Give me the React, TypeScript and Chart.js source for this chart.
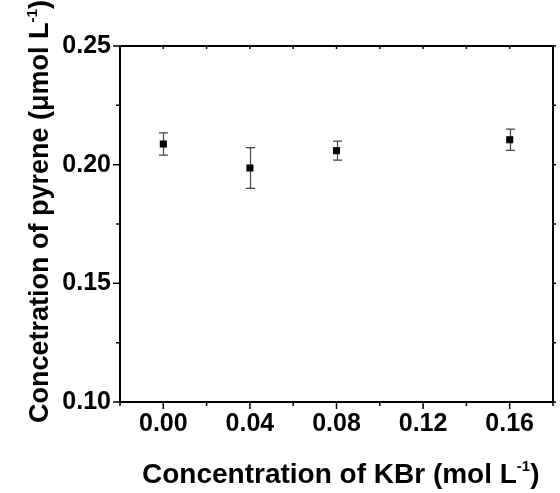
import React, { useEffect, useRef } from "react";
import { Chart, registerables } from "chart.js";

Chart.register(...registerables);

// Data
const kbrConc = [0.0, 0.04, 0.08, 0.16];
const pyreneConc = [0.2087, 0.1986, 0.2059, 0.2105];
const pyreneErr = [0.0047, 0.0086, 0.004, 0.0045];

const xMin = -0.02;
const xMax = 0.18;
const xStep = 0.02;
const xMajorStep = 0.04;
const yMin = 0.1;
const yMax = 0.25;
const yStep = 0.025;
const yMajorStep = 0.05;

const xTitle = "Concentration of KBr (mol L";
const yTitle = "Concetration of pyrene (\u03BCmol L";
const supText = "-1";

const FONT = '"Liberation Sans", Arial, Helvetica, sans-serif';

const isMajor = (v: number, step: number) =>
  Math.abs(v / step - Math.round(v / step)) < 1e-6;

const errorBarPlugin = {
  id: "errorBars",
  beforeDatasetsDraw(chart: any) {
    const { ctx } = chart;
    const xs = chart.scales.x;
    const ys = chart.scales.y;
    ctx.save();
    ctx.strokeStyle = "#444";
    ctx.lineWidth = 1.2;
    kbrConc.forEach((xv, i) => {
      const px = Math.round(xs.getPixelForValue(xv)) + 0.5;
      const top = ys.getPixelForValue(pyreneConc[i] + pyreneErr[i]);
      const bot = ys.getPixelForValue(pyreneConc[i] - pyreneErr[i]);
      ctx.beginPath();
      ctx.moveTo(px, top);
      ctx.lineTo(px, bot);
      ctx.moveTo(px - 4.5, top);
      ctx.lineTo(px + 4.5, top);
      ctx.moveTo(px - 4.5, bot);
      ctx.lineTo(px + 4.5, bot);
      ctx.stroke();
    });
    ctx.restore();
  },
};

const framePlugin = {
  id: "frame",
  afterDraw(chart: any) {
    const { ctx, chartArea: a } = chart;
    const xs = chart.scales.x;
    const ys = chart.scales.y;
    ctx.save();
    ctx.strokeStyle = "#000";
    ctx.lineWidth = 2;
    ctx.strokeRect(a.left, a.top, a.right - a.left, a.bottom - a.top);
    ctx.lineWidth = 1.5;
    ctx.beginPath();
    xs.ticks.forEach((t: any) => {
      const px = xs.getPixelForValue(t.value);
      const len = isMajor(t.value, xMajorStep) ? 7 : 4;
      ctx.moveTo(px, a.bottom);
      ctx.lineTo(px, a.bottom + len);
      ctx.moveTo(px, a.top);
      ctx.lineTo(px, a.top + 3);
    });
    ys.ticks.forEach((t: any) => {
      const py = ys.getPixelForValue(t.value);
      const len = isMajor(t.value, yMajorStep) ? 7 : 4;
      ctx.moveTo(a.left, py);
      ctx.lineTo(a.left - len, py);
      ctx.moveTo(a.right, py);
      ctx.lineTo(a.right + 3, py);
    });
    ctx.stroke();
    ctx.restore();
  },
};

// draws title starting at local x = 0, baseline at local y = 0
function drawTitle(ctx: CanvasRenderingContext2D, main: string, size: number) {
  const mainFont = `bold ${size}px ${FONT}`;
  const supFont = `bold ${Math.round(size * 0.55)}px ${FONT}`;
  ctx.textAlign = "left";
  ctx.textBaseline = "alphabetic";
  let x = 0;
  ctx.font = mainFont;
  ctx.fillText(main, x, 0);
  x += ctx.measureText(main).width;
  ctx.font = supFont;
  ctx.fillText(supText, x, -size * 0.42);
  x += ctx.measureText(supText).width;
  ctx.font = mainFont;
  ctx.fillText(")", x, 0);
}

const titlePlugin = {
  id: "axisTitles",
  afterDraw(chart: any) {
    const { ctx } = chart;
    ctx.save();
    ctx.fillStyle = "#000";
    ctx.translate(142, 483);
    drawTitle(ctx, xTitle, 28);
    ctx.restore();

    ctx.save();
    ctx.fillStyle = "#000";
    ctx.translate(48, 423);
    ctx.rotate(-Math.PI / 2);
    drawTitle(ctx, yTitle, 27);
    ctx.restore();
  },
};

export default function App() {
  const ref = useRef<HTMLCanvasElement | null>(null);

  useEffect(() => {
    if (!ref.current) return;
    const chart = new Chart(ref.current, {
      type: "scatter",
      data: {
        datasets: [
          {
            data: kbrConc.map((x, i) => ({ x, y: pyreneConc[i] })),
            backgroundColor: "#000",
            borderColor: "#000",
            pointStyle: "rect",
            pointRadius: 5,
            borderWidth: 0,
          },
        ],
      },
      options: {
        responsive: false,
        animation: false,
        layout: { padding: { top: 46, right: 3, left: 0, bottom: 0 } },
        plugins: {
          legend: { display: false },
          tooltip: { enabled: false },
        },
        scales: {
          x: {
            type: "linear",
            min: xMin,
            max: xMax,
            grid: { display: false, drawTicks: false },
            border: { display: false },
            afterFit: (s: any) => {
              s.height = 91;
            },
            afterBuildTicks: (s: any) => {
              const t = [];
              for (let v = xMin; v <= xMax + 1e-9; v += xStep) t.push({ value: +v.toFixed(4) });
              s.ticks = t;
            },
            ticks: {
              autoSkip: false,
              maxRotation: 0,
              padding: 7,
              color: "#000",
              font: { family: FONT, size: 25, weight: "bold" },
              callback: (v: any) => {
                const n = Number(v);
                if (n < -1e-9) return "";
                return isMajor(n, xMajorStep) ? n.toFixed(2) : "";
              },
            },
          },
          y: {
            type: "linear",
            min: yMin,
            max: yMax,
            grid: { display: false, drawTicks: false },
            border: { display: false },
            afterFit: (s: any) => {
              s.width = 120;
            },
            afterBuildTicks: (s: any) => {
              const t = [];
              for (let v = yMin; v <= yMax + 1e-9; v += yStep) t.push({ value: +v.toFixed(4) });
              s.ticks = t;
            },
            ticks: {
              autoSkip: false,
              padding: 9,
              color: "#000",
              font: { family: FONT, size: 25, weight: "bold" },
              callback: (v: any) => {
                const n = Number(v);
                return isMajor(n, yMajorStep) ? n.toFixed(2) : "";
              },
            },
          },
        },
      },
      plugins: [errorBarPlugin, framePlugin, titlePlugin],
    } as any);
    return () => chart.destroy();
  }, []);

  return (
    <div style={{ position: "fixed", left: 0, top: 0, width: 560, height: 493, background: "#fff" }}>
      <canvas ref={ref} width={560} height={493} />
    </div>
  );
}
